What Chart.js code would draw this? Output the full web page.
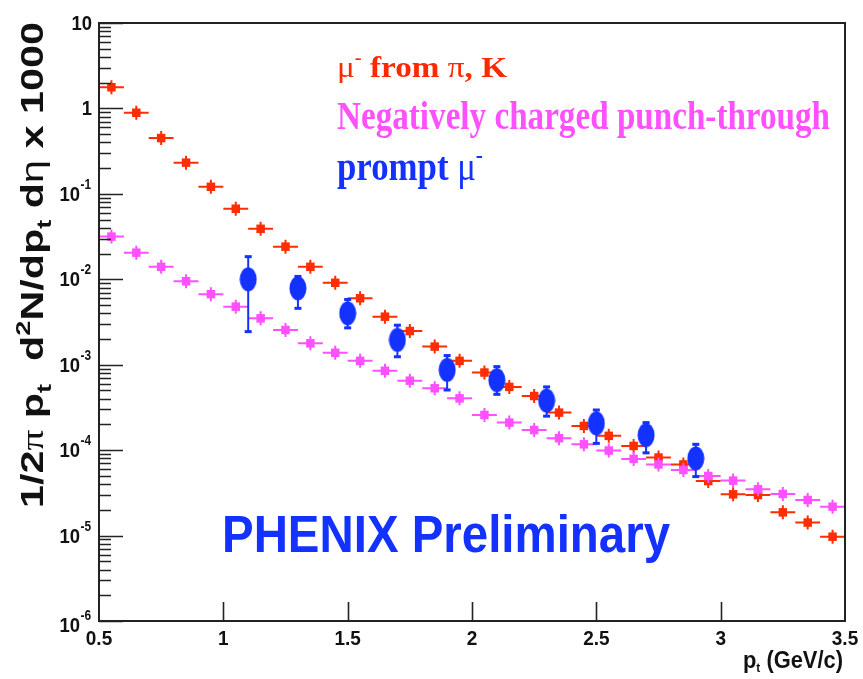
<!DOCTYPE html>
<html>
<head>
<meta charset="utf-8">
<script src="https://cdn.jsdelivr.net/npm/chart.js@4.4.1/dist/chart.umd.min.js"></script>
<style>
  html, body { margin: 0; padding: 0; background: #fff; }
  #c { display: block; }
</style>
</head>
<body>
<canvas id="c" width="863" height="679"></canvas>
<script>
// ----- data -----
const binCenters = [0.55, 0.65, 0.75, 0.85, 0.95, 1.05, 1.15, 1.25, 1.35, 1.45,
                    1.55, 1.65, 1.75, 1.85, 1.95, 2.05, 2.15, 2.25, 2.35, 2.45,
                    2.55, 2.65, 2.75, 2.85, 2.95, 3.05, 3.15, 3.25, 3.35, 3.45];
const binHalfWidth = 0.05;

// mu- from pi, K
const muFromPiK = [1.77, 0.89, 0.45, 0.232, 0.121, 0.067, 0.039, 0.0241, 0.0140, 0.0091,
                   0.0060, 0.00365, 0.00248, 0.00163, 0.00111, 0.00081, 0.00055, 0.00043, 0.000275, 0.000192,
                   0.000147, 0.000112, 8.2e-5, 6.8e-5, 4.35e-5, 3.04e-5, 2.98e-5, 1.87e-5, 1.42e-5, 9.7e-6];

// negatively charged punch-through
const punchThrough = [0.0316, 0.0205, 0.0140, 0.0095, 0.0067, 0.00478, 0.00349, 0.00255, 0.00178, 0.00138,
                      0.00111, 0.00085, 0.00065, 0.00053, 0.000404, 0.000258, 0.00021, 0.000172, 0.000138, 0.000117,
                      9.9e-5, 7.9e-5, 6.8e-5, 5.86e-5, 4.98e-5, 4.4e-5, 3.48e-5, 3.07e-5, 2.61e-5, 2.18e-5];

// prompt mu-
const promptPt = [1.1, 1.3, 1.5, 1.7, 1.9, 2.1, 2.3, 2.5, 2.7, 2.9];
const promptMu = [0.0100, 0.00785, 0.0040, 0.00195, 0.00087, 0.00066, 0.00038, 0.000206, 0.000150, 8.0e-5];
const promptHi = [0.0184, 0.0108, 0.0058, 0.0029, 0.00128, 0.00095, 0.00055, 0.000295, 0.00021, 0.000117];
const promptLo = [0.00244, 0.00457, 0.0027, 0.00124, 0.000506, 0.00045, 0.00025, 0.00012, 9.3e-5, 4.9e-5];

const xTickValues = [1, 1.5, 2, 2.5, 3];
const xTickLabels = ['0.5', '1', '1.5', '2', '2.5', '3', '3.5'];
const xLabelValues = [0.5, 1, 1.5, 2, 2.5, 3, 3.5];
const yDecades = [-6, -5, -4, -3, -2, -1, 0, 1];

// ----- colours -----
const RED = 'rgb(255,45,0)';
const MAGENTA = 'rgb(255,80,255)';
const BLUE = 'rgb(20,50,255)';
const AXIS = '#222';

// big blue oval marker for prompt mu-
const oval = document.createElement('canvas');
oval.width = 18; oval.height = 25;
(function () {
  const o = oval.getContext('2d');
  o.fillStyle = BLUE;
  o.beginPath();
  o.ellipse(9, 12.5, 8.5, 12, 0, 0, Math.PI * 2);
  o.fill();
})();

function toPoints(xs, ys) {
  return xs.map((x, i) => ({ x: x, y: ys[i] }));
}

// draws a list of text runs fitted to a given length (optionally rotated)
function drawRuns(ctx, runs, x, y, length, angle, color) {
  ctx.save();
  let total = 0;
  runs.forEach(r => { ctx.font = r.font; total += ctx.measureText(r.t).width; });
  ctx.translate(x, y);
  if (angle) ctx.rotate(angle);
  ctx.scale(length / total, 1);
  ctx.fillStyle = color;
  ctx.textAlign = 'left';
  ctx.textBaseline = 'alphabetic';
  let cx = 0;
  runs.forEach(r => {
    ctx.font = r.font;
    ctx.fillText(r.t, cx, r.dy || 0);
    cx += ctx.measureText(r.t).width;
  });
  ctx.restore();
}

function drawText(ctx, text, font, x, y, align, sx) {
  ctx.save();
  ctx.font = font;
  ctx.textAlign = align;
  ctx.textBaseline = 'alphabetic';
  ctx.translate(x, y);
  ctx.scale(sx || 1, 1);
  ctx.fillText(text, 0, 0);
  ctx.restore();
}

// --- error bars drawn just before each dataset's markers ---
const errorBars = {
  id: 'errorBars',
  beforeDatasetDraw(chart, args) {
    const ctx = chart.ctx;
    const xs = chart.scales.x, ys = chart.scales.y;
    const ds = chart.data.datasets[args.index];
    ctx.save();
    ctx.strokeStyle = ds.backgroundColor;
    ctx.fillStyle = ds.backgroundColor;
    ctx.lineWidth = 2;
    if (ds.kind === 'binned') {
      ds.data.forEach(p => {
        const px = xs.getPixelForValue(p.x), py = ys.getPixelForValue(p.y);
        const x0 = xs.getPixelForValue(p.x - binHalfWidth), x1 = xs.getPixelForValue(p.x + binHalfWidth);
        ctx.beginPath();
        ctx.moveTo(x0, py); ctx.lineTo(x1, py);
        ctx.moveTo(px, py - 7); ctx.lineTo(px, py + 7);
        ctx.stroke();
      });
    } else {
      ds.data.forEach((p, i) => {
        const px = xs.getPixelForValue(p.x);
        const yh = ys.getPixelForValue(promptHi[i]), yl = ys.getPixelForValue(promptLo[i]);
        ctx.beginPath();
        ctx.moveTo(px, yh); ctx.lineTo(px, yl);
        ctx.stroke();
        ctx.fillRect(px - 3.5, yh - 1.5, 7, 3);
        ctx.fillRect(px - 3.5, yl - 1.5, 7, 3);
      });
    }
    ctx.restore();
  }
};

// --- ROOT style frame, ticks and texts ---
const rootFrame = {
  id: 'rootFrame',
  afterDraw(chart) {
    const ctx = chart.ctx;
    const a = chart.chartArea;
    const xs = chart.scales.x, ys = chart.scales.y;
    ctx.save();
    ctx.strokeStyle = AXIS;
    ctx.fillStyle = AXIS;

    // frame
    ctx.lineWidth = 2;
    ctx.strokeRect(a.left, a.top, a.right - a.left, a.bottom - a.top);

    // y ticks (inside, on the left)
    ctx.lineWidth = 1.6;
    ctx.beginPath();
    yDecades.forEach(d => {
      for (let k = 1; k <= 9; k++) {
        const v = k * Math.pow(10, d);
        if (v > 10.0001) break;
        const py = Math.round(ys.getPixelForValue(v)) + 0.5;
        ctx.moveTo(a.left, py);
        ctx.lineTo(a.left + (k === 1 ? 24 : 12), py);
      }
    });
    // x ticks (inside, on the bottom)
    xTickValues.forEach(v => {
      const px = Math.round(xs.getPixelForValue(v)) + 0.5;
      ctx.moveTo(px, a.bottom);
      ctx.lineTo(px, a.bottom - 19);
    });
    ctx.stroke();

    // y tick labels
    ctx.fillStyle = '#111';
    yDecades.forEach(d => {
      const py = ys.getPixelForValue(Math.pow(10, d));
      if (d === 1) {
        drawText(ctx, '10', 'bold 21px "Liberation Sans"', 92, py + 7, 'right', 0.88);
      } else if (d === 0) {
        drawText(ctx, '1', 'bold 21px "Liberation Sans"', 92, py + 7, 'right', 0.88);
      } else {
        const off = d === -6 ? 4 : 0;
        drawText(ctx, '10', 'bold 21px "Liberation Sans"', 80, py + 7 + off, 'right', 0.88);
        drawText(ctx, String(d), 'bold 14px "Liberation Sans"', 80.5, py - 5 + off, 'left', 0.85);
      }
    });

    // x tick labels
    xLabelValues.forEach((v, i) => {
      const px = xs.getPixelForValue(v);
      drawText(ctx, xTickLabels[i], 'bold 20px "Liberation Sans"', px, a.bottom + 24, 'center', 0.95);
    });

    // x axis title
    const XF = 'bold 24px "Liberation Sans"', XS = 'bold 13px "Liberation Sans"';
    drawRuns(ctx, [
      { t: 'p', font: XF }, { t: 't', font: XS, dy: 4 }, { t: ' (GeV/c)', font: XF }
    ], 743, 668, 100, 0, '#111');

    // y axis title (rotated)
    const F = 'bold 32px "Liberation Sans"', S = 'bold 21px "Liberation Sans"';
    const G = '32px "Liberation Serif"', H = '32px "Liberation Sans"';
    drawRuns(ctx, [
      { t: '1/2', font: F }, { t: 'π', font: G }, { t: ' p', font: F }, { t: 't', font: S, dy: 8 },
      { t: '  d', font: F }, { t: '2', font: S, dy: -13 }, { t: 'N/dp', font: F }, { t: 't', font: S, dy: 8 },
      { t: ' d', font: F }, { t: 'η', font: H }, { t: ' x 1000', font: F }
    ], 43, 508, 486, -Math.PI / 2, '#111');

    // legend texts
    const L1 = 'bold 29px "Liberation Serif"', L1r = '29px "Liberation Serif"', L1s = 'bold 18px "Liberation Serif"';
    drawRuns(ctx, [
      { t: 'μ', font: L1r }, { t: '-', font: L1s, dy: -13 }, { t: ' from ', font: L1 },
      { t: 'π', font: L1r }, { t: ', K', font: L1 }
    ], 337, 77, 170, 0, 'rgb(255,40,0)');
    drawRuns(ctx, [{ t: 'Negatively charged punch-through', font: 'bold 39px "Liberation Serif"' }],
      337, 129, 493, 0, MAGENTA);
    drawRuns(ctx, [
      { t: 'prompt ', font: 'bold 39px "Liberation Serif"' }, { t: 'μ', font: '39px "Liberation Serif"' },
      { t: '-', font: 'bold 24px "Liberation Serif"', dy: -17 }
    ], 337, 180, 146, 0, BLUE);

    // PHENIX Preliminary
    drawRuns(ctx, [{ t: 'PHENIX Preliminary', font: 'bold 51px "Liberation Sans"' }],
      222, 552, 448, 0, BLUE);

    ctx.restore();
  }
};

const whiteBg = {
  id: 'whiteBg',
  beforeDraw(chart) {
    const ctx = chart.ctx;
    ctx.save();
    ctx.fillStyle = '#fff';
    ctx.fillRect(0, 0, chart.width, chart.height);
    ctx.restore();
  }
};

const ctx = document.getElementById('c').getContext('2d');
new Chart(ctx, {
  type: 'scatter',
  data: {
    datasets: [
      {
        label: 'prompt μ-',
        kind: 'prompt',
        data: toPoints(promptPt, promptMu),
        backgroundColor: BLUE,
        pointStyle: oval,
        pointRadius: 9,
        order: 1
      },
      {
        label: 'Negatively charged punch-through',
        kind: 'binned',
        data: toPoints(binCenters, punchThrough),
        backgroundColor: MAGENTA,
        borderWidth: 0,
        pointStyle: 'rect',
        pointRadius: 6,
        order: 2
      },
      {
        label: 'μ- from π, K',
        kind: 'binned',
        data: toPoints(binCenters, muFromPiK),
        backgroundColor: RED,
        borderWidth: 0,
        pointStyle: 'rect',
        pointRadius: 6,
        order: 3
      }
    ]
  },
  options: {
    responsive: false,
    animation: false,
    devicePixelRatio: 1,
    layout: { padding: { top: 23, right: 18, left: 0, bottom: 0 } },
    plugins: { legend: { display: false }, tooltip: { enabled: false } },
    scales: {
      x: {
        type: 'linear', min: 0.5, max: 3.5,
        grid: { display: false }, border: { display: false }, ticks: { display: false },
        afterFit: s => { s.height = 58; }
      },
      y: {
        type: 'logarithmic', min: 1e-6, max: 10,
        grid: { display: false }, border: { display: false }, ticks: { display: false },
        afterFit: s => { s.width = 99; }
      }
    }
  },
  plugins: [whiteBg, errorBars, rootFrame]
});
</script>
</body>
</html>
